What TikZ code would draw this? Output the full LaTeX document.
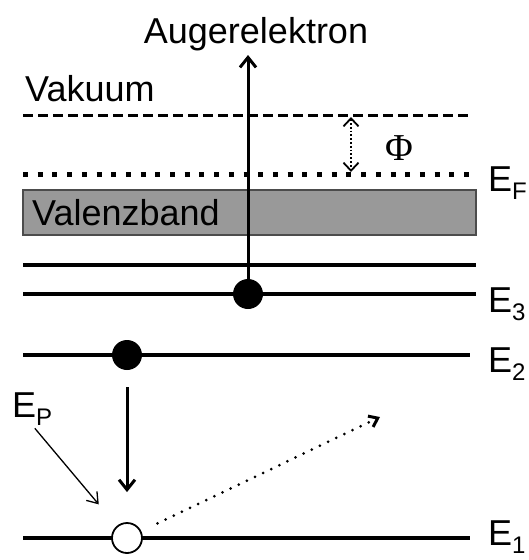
\documentclass[tikz,border=0pt]{standalone}
\usepackage{fontspec}
\setmainfont{Liberation Sans}
\newfontfamily\phifont{Liberation Serif}
\usetikzlibrary{arrows.meta}
\newcommand{\elevel}[1]{E\raisebox{-8pt}{\fontsize{24}{24}\selectfont #1}}
\begin{document}
\begin{tikzpicture}
        [x=1pt, y=-1pt,
        txt/.style={inner sep=0pt, font=\fontsize{36}{36}\selectfont},
        level/.style={line width=4pt},
        vacuum/.style={line width=3pt, dash pattern=on 10pt off 5pt},
        fermi/.style={line width=5pt, dash pattern=on 5pt off 9.7pt},
        band/.style={fill=black!40, draw=black!70, line width=1.2pt},
        dot/.style={circle, fill=black, minimum size=30pt, inner sep=0pt},
        hole/.style={circle, draw, fill=white, line width=1.8pt, minimum size=30pt, inner sep=0pt},
        jump/.style={line width=3pt, -{Straight Barb[length=10pt,width=16pt]}},
        phiarrow/.style={line width=1.8pt, dotted, {Straight Barb[length=8pt,width=15pt]}-{Straight Barb[length=8pt,width=15pt]}},
        thinarrow/.style={line width=1.3pt, -{Straight Barb[length=10pt,width=14pt]}},
        escape/.style={line width=3pt, line cap=round, dash pattern=on 0pt off 9pt, -{Straight Barb[length=8pt,width=12pt]}}]

        \useasboundingbox (0,0) rectangle (529,560);

        % levels
        \draw[vacuum] (23,115) -- (470,115);
        \draw[fermi] (23,174) -- (470,174);
        \draw[band] (23,190) rectangle (476,235);
        \draw[level] (23,265) -- (476,265);
        \draw[level] (23,294) -- (476,294);
        \draw[level] (23,355) -- (470,355);
        \draw[level] (23,538) -- (470,538);

        % labels
        \node[txt, anchor=base] (auger) at (256,43) {Augerelektron};
        \node[txt, anchor=base west] (vak) at (25,101) {Vakuum};
        \node[txt, anchor=base west] (vb) at (32,225) {Valenzband};
        \node[inner sep=0pt, font=\phifont\fontsize{38}{38}\selectfont] (phi) at (399,148) {Φ};
        \node[txt, anchor=base west] (ef) at (488,191) {\elevel{F}};
        \node[txt, anchor=base west] (e3) at (488,312) {\elevel{3}};
        \node[txt, anchor=base west] (e2) at (488,372) {\elevel{2}};
        \node[txt, anchor=base west] (e1) at (488,545) {\elevel{1}};
        \node[txt, anchor=base west] (ep) at (12,417) {\elevel{P}};

        % electrons and hole
        \node[dot] (d3) at (248,294) {};
        \node[dot] (d2) at (127,355) {};
        \node[hole] (h1) at (127,538) {};

        \coordinate (atop) at (248,55);
        \coordinate (vac) at (351,117);
        \coordinate (fl) at (351,172);
        \coordinate (out) at (380,417);

        % transitions
        \draw[jump] (d3) -- (atop);
        \draw[jump, shorten <=17pt, shorten >=30pt] (d2) -- (h1);
        \draw[phiarrow] (vac) -- (fl);
        \draw[thinarrow, shorten <=4pt, shorten >=28pt] (ep.south) -- (h1);
        \draw[escape, shorten <=18pt] (h1) -- (out);

        \end{tikzpicture}
\end{document}
